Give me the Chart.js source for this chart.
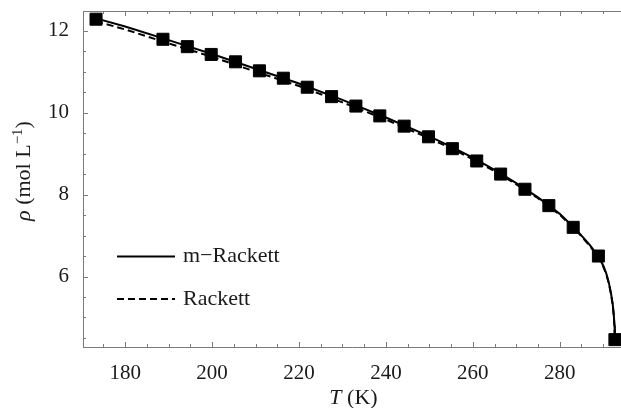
<!DOCTYPE html>
<html>
<head>
<meta charset="utf-8">
<script src="https://cdn.jsdelivr.net/npm/chart.js@4.4.0/dist/chart.umd.min.js"></script>
<style>
html,body{margin:0;padding:0;background:#fff;}
#wrap{width:621px;height:408px;}
</style>
</head>
<body>
<div id="wrap"><canvas id="c" width="621" height="408"></canvas></div>
<script>
// Experimental data (markers)
const expT   = [173.3, 188.7, 194.3, 199.8, 205.4, 210.9, 216.4, 221.9, 227.5, 233.1, 238.6, 244.2, 249.8, 255.3, 260.9, 266.4, 272.0, 277.5, 283.1, 288.9, 292.7];
const expRho = [12.28, 11.79, 11.61, 11.42, 11.24, 11.02, 10.84, 10.62, 10.39, 10.16, 9.92, 9.67, 9.41, 9.12, 8.82, 8.50, 8.13, 7.73, 7.20, 6.50, 4.46];

// Model curves
const curveT       = [173.3, 180, 190, 200, 210, 220, 230, 240, 250, 255, 260, 265, 270, 275, 280, 284, 287, 289, 290, 290.7, 291.3, 291.8, 292.2, 292.45, 292.6, 292.7];
const mRackettRho  = [12.30, 12.10, 11.77, 11.43, 11.07, 10.71, 10.31, 9.88, 9.42, 9.17, 8.90, 8.60, 8.28, 7.93, 7.53, 7.12, 6.76, 6.47, 6.27, 6.08, 5.85, 5.59, 5.32, 5.05, 4.80, 4.46];
const rackettRho   = [12.23, 12.03, 11.69, 11.36, 11.00, 10.65, 10.25, 9.83, 9.37, 9.13, 8.86, 8.57, 8.25, 7.91, 7.51, 7.10, 6.74, 6.45, 6.25, 6.06, 5.83, 5.57, 5.30, 5.03, 4.78, 4.46];

// Axis ticks
const xTicks = [180, 200, 220, 240, 260, 280];
const yTicks = [6, 8, 10, 12];
const seriesLabels = ['m\u2212Rackett', 'Rackett'];

const FONT = "'Liberation Serif', 'Times New Roman', serif";
const AXIS_COLOR = '#7a7a7a';
const TEXT_COLOR = '#1a1a1a';

const toXY = (xs, ys) => xs.map((x, i) => ({x: x, y: ys[i]}));
const zeroPad = s => { s.paddingTop = 0; s.paddingBottom = 0; s.paddingLeft = 0; s.paddingRight = 0; };

const decorPlugin = {
  id: 'decor',
  afterDraw(chart) {
    const ctx = chart.ctx;
    const xs = chart.scales.x, ys = chart.scales.y;
    const ca = chart.chartArea;
    ctx.save();
    // top frame line
    ctx.strokeStyle = AXIS_COLOR;
    ctx.lineWidth = 1;
    ctx.beginPath();
    ctx.moveTo(ca.left, ca.top + 0.5);
    ctx.lineTo(ca.right, ca.top + 0.5);
    ctx.stroke();
    // inward ticks x (bottom & top), y (left)
    ctx.beginPath();
    for (let v = 170; v <= xs.max; v += 5) {
      if (v < xs.min) continue;
      const px = Math.round(xs.getPixelForValue(v)) + 0.5;
      const len = (v % 20 === 0) ? 5 : 3;
      ctx.moveTo(px, ca.bottom); ctx.lineTo(px, ca.bottom - len);
      ctx.moveTo(px, ca.top); ctx.lineTo(px, ca.top + len);
    }
    for (let v = 4.5; v <= ys.max; v += 0.5) {
      if (v < ys.min) continue;
      const py = Math.round(ys.getPixelForValue(v)) + 0.5;
      const len = (Math.abs(v % 2) < 1e-9) ? 5 : 3;
      ctx.moveTo(ca.left, py); ctx.lineTo(ca.left + len, py);
    }
    ctx.stroke();

    // Legend
    const ds = chart.data.datasets;
    const items = [ds[0], ds[1]];
    const lx0 = 117, lx1 = 175, ly = [256.5, 299];
    items.forEach((d, i) => {
      ctx.beginPath();
      ctx.strokeStyle = d.borderColor;
      ctx.lineWidth = d.borderWidth;
      ctx.setLineDash(d.borderDash || []);
      ctx.moveTo(lx0, ly[i]); ctx.lineTo(lx1, ly[i]);
      ctx.stroke();
      ctx.setLineDash([]);
      ctx.fillStyle = TEXT_COLOR;
      ctx.font = "22px " + FONT;
      ctx.textBaseline = 'middle';
      ctx.textAlign = 'left';
      ctx.fillText(d.label, 183, ly[i]);
    });

    // X axis title: italic T + " (K)"
    ctx.textBaseline = 'alphabetic';
    ctx.textAlign = 'left';
    const fI = "italic 22px " + FONT, fN = "22px " + FONT;
    ctx.font = fI; const wT = ctx.measureText('T').width;
    ctx.font = fN; const wK = ctx.measureText(' (K)').width;
    let sx = 353.5 - (wT + wK) / 2;
    ctx.font = fI; ctx.fillText('T', sx, 404);
    ctx.font = fN; ctx.fillText(' (K)', sx + wT, 404);

    // Y axis title: italic rho + " (mol L" + sup "-1" + ")"
    ctx.translate(29.5, 171);
    ctx.rotate(-Math.PI / 2);
    const fS = "15px " + FONT;
    ctx.font = fI; const w1 = ctx.measureText('\u03C1').width;
    ctx.font = fN; const w2 = ctx.measureText(' (mol L').width;
    ctx.font = fS; const w3 = ctx.measureText('\u22121').width;
    ctx.font = fN; const w4 = ctx.measureText(')').width;
    let tx = -(w1 + w2 + w3 + w4) / 2;
    ctx.font = fI; ctx.fillText('\u03C1', tx, 0); tx += w1;
    ctx.font = fN; ctx.fillText(' (mol L', tx, 0); tx += w2;
    ctx.font = fS; ctx.fillText('\u22121', tx, -8); tx += w3;
    ctx.font = fN; ctx.fillText(')', tx, 0);
    ctx.restore();
  }
};

new Chart(document.getElementById('c'), {
  type: 'scatter',
  data: {
    datasets: [
      {
        label: seriesLabels[0],
        data: toXY(curveT, mRackettRho),
        showLine: true, borderColor: '#000', borderWidth: 2, pointRadius: 0,
        tension: 0, fill: false, clip: 10, order: 2
      },
      {
        label: seriesLabels[1],
        data: toXY(curveT, rackettRho),
        showLine: true, borderColor: '#000', borderWidth: 2, borderDash: [7, 4], pointRadius: 0,
        tension: 0, fill: false, clip: 10, order: 3
      },
      {
        label: 'Experimental',
        data: toXY(expT, expRho),
        showLine: false, pointStyle: 'rect', pointRadius: 8.5,
        backgroundColor: '#000', borderColor: '#000', borderWidth: 1, clip: 10, order: 1
      }
    ]
  },
  options: {
    responsive: false,
    devicePixelRatio: 1,
    animation: false,
    layout: { autoPadding: false, padding: { top: 11, right: 0, left: 0, bottom: 0 } },
    plugins: { legend: { display: false }, tooltip: { enabled: false }, title: { display: false } },
    scales: {
      x: {
        type: 'linear', min: 170.3, max: 294.1,
        afterBuildTicks: s => { s.ticks = xTicks.map(v => ({value: v})); },
        afterFit: s => { s.height = 61; zeroPad(s); },
        grid: { display: true, drawOnChartArea: false, drawTicks: false },
        border: { display: true, color: AXIS_COLOR, width: 1 },
        ticks: { color: TEXT_COLOR, font: { family: FONT, size: 21 }, padding: 14, maxRotation: 0 }
      },
      y: {
        type: 'linear', min: 4.28, max: 12.48,
        afterBuildTicks: s => { s.ticks = yTicks.map(v => ({value: v})); },
        afterFit: s => { s.width = 83; zeroPad(s); },
        grid: { display: true, drawOnChartArea: false, drawTicks: false },
        border: { display: true, color: AXIS_COLOR, width: 1 },
        ticks: { color: TEXT_COLOR, font: { family: FONT, size: 21 }, padding: 14 }
      }
    }
  },
  plugins: [decorPlugin]
});
</script>
</body>
</html>
